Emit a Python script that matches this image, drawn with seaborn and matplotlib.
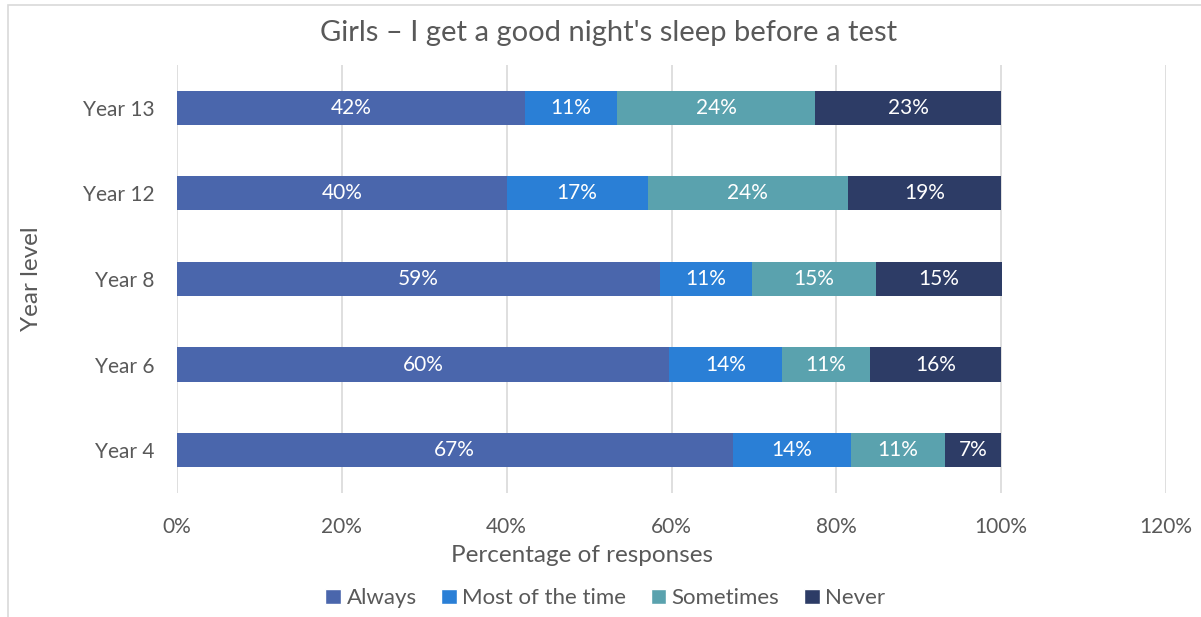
import numpy as np
import pandas as pd
import matplotlib
matplotlib.use("Agg")
import matplotlib.pyplot as plt
from matplotlib.patches import Patch, Rectangle
import seaborn as sns

# data (percent of responses), top to bottom as drawn
years = ["Year 13", "Year 12", "Year 8", "Year 6", "Year 4"]
always = [42.2, 40.0, 58.6, 59.7, 67.4]
most_of_time = [11.2, 17.1, 11.2, 13.7, 14.4]
sometimes = [24.0, 24.3, 15.0, 10.7, 11.4]
never = [22.6, 18.6, 15.3, 15.9, 6.8]

series = ["Always", "Most of the time", "Sometimes", "Never"]
colors = ["#4A66AC", "#2A7FD6", "#5AA2AE", "#2D3C66"]
grey = "#595959"

df = pd.DataFrame({"year": years, "Always": always, "Most of the time": most_of_time,
                   "Sometimes": sometimes, "Never": never})
vals = df[series].to_numpy()
cum = vals.cumsum(axis=1)
starts = cum - vals

sns.set_theme(style="white")
plt.rcParams['font.family'] = ['Lato', 'DejaVu Sans']

fig = plt.figure(figsize=(12.01, 6.17), dpi=100)
ax = fig.add_axes([0.1474, 0.201, 0.8235, 0.6937])

# stacked bars: draw cumulative totals from the back to the front
for i in reversed(range(len(series))):
    tmp = pd.DataFrame({"year": years, "v": cum[:, i]})
    sns.barplot(data=tmp, x="v", y="year", order=years, orient="h", color=colors[i],
                saturation=1, width=0.4, linewidth=0, ax=ax, zorder=3)

for r in range(len(years)):
    for i in range(len(series)):
        ax.text(starts[r, i] + vals[r, i] / 2, r, "{:.0f}%".format(vals[r, i]),
                ha="center", va="center", color="white", fontsize=15, zorder=5)

ax.set_xlim(0, 120)
ax.set_ylim(4.5, -0.5)
ax.set_xticks(np.arange(0, 121, 20))
ax.set_xticklabels(["{}%".format(t) for t in range(0, 121, 20)])
ax.xaxis.grid(True, color="#D9D9D9", linewidth=1.2, zorder=0)
ax.set_axisbelow(True)
for s in ax.spines.values():
    s.set_visible(False)
ax.tick_params(axis="both", length=0, labelsize=15, colors=grey)
ax.tick_params(axis="x", pad=17)
ax.tick_params(axis="y", pad=16)
ax.set_xlabel("Percentage of responses", fontsize=17.5, color=grey)
ax.xaxis.set_label_coords(0.4095, -0.121)
ax.set_ylabel("Year level", fontsize=17.5, color=grey)
ax.yaxis.set_label_coords(-0.1365, 0.5)
fig.text(609 / 1201, 1 - 33 / 617, "Girls \u2013 I get a good night's sleep before a test",
         fontsize=21, color=grey, ha="center", va="center")

handles = [Patch(facecolor=c, label=s) for c, s in zip(colors, series)]
fig.legend(handles=handles, loc="center", bbox_to_anchor=(0.504, 0.03), ncol=4, frameon=False,
           fontsize=16, handlelength=0.7, handleheight=0.7, handletextpad=0.25,
           columnspacing=1.1, labelcolor=grey)

fig.patches.append(Rectangle((0.007, -0.01), 1.2, 1.002, transform=fig.transFigure,
                             fill=False, edgecolor="#D9D9D9", linewidth=1.2))

fig.savefig("out.png", dpi=100)
